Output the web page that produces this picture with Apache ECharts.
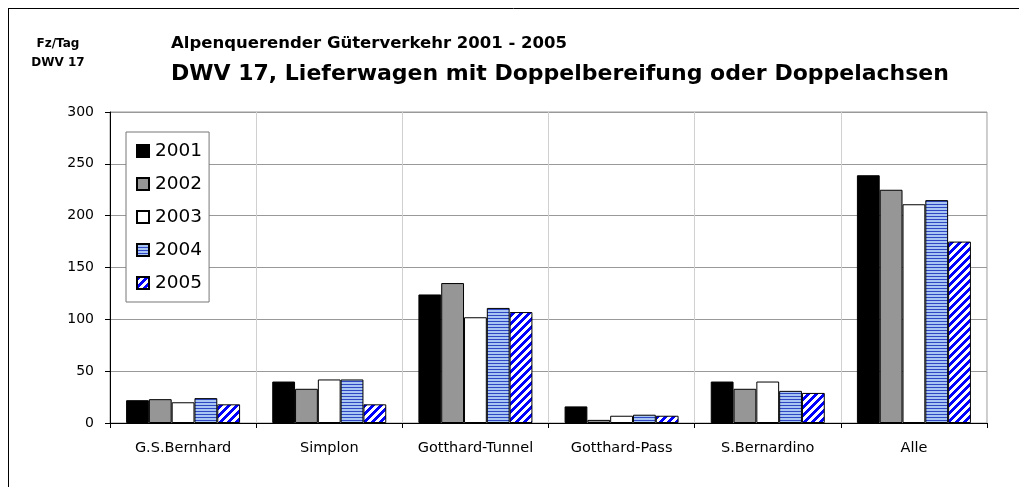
<!DOCTYPE html>
<html>
<head>
<meta charset="utf-8">
<script src="https://cdn.jsdelivr.net/npm/echarts@6/dist/echarts.min.js"></script>
<style>
html,body{margin:0;padding:0;background:#fff;}
#c{width:1019px;height:487px;}
</style>
</head>
<body>
<div id="c"></div>
<script>
const categories = ['G.S.Bernhard', 'Simplon', 'Gotthard-Tunnel', 'Gotthard-Pass', 'S.Bernardino', 'Alle'];
const years = ['2001', '2002', '2003', '2004', '2005'];
const v2001 = [22, 40, 124, 16, 40, 239];
const v2002 = [23, 33, 135, 3, 33, 225];
const v2003 = [20, 42, 102, 7, 40, 211];
const v2004 = [24, 42, 111, 8, 31, 215];
const v2005 = [18, 18, 107, 7, 29, 175];
const yTicks = [0, 50, 100, 150, 200, 250, 300];
const titleTop = 'Alpenquerender Güterverkehr 2001 - 2005';
const titleMain = 'DWV 17, Lieferwagen mit Doppelbereifung oder Doppelachsen';
const unitLines = ['Fz/Tag', 'DWV 17'];

function hPattern() {
  const c = document.createElement('canvas');
  c.width = 4; c.height = 3;
  const g = c.getContext('2d');
  g.fillStyle = '#a9c6f2'; g.fillRect(0, 0, 4, 3);
  g.fillStyle = '#2f47c4'; g.fillRect(0, 0, 4, 1);
  return { image: c, repeat: 'repeat' };
}
function dPattern() {
  const n = 8;
  const c = document.createElement('canvas');
  c.width = n; c.height = n;
  const g = c.getContext('2d');
  const img = g.createImageData(n, n);
  for (let y = 0; y < n; y++) for (let x = 0; x < n; x++) {
    const blue = ((x + y) % n) < 4;
    const i = (y * n + x) * 4;
    img.data[i] = blue ? 0 : 255;
    img.data[i + 1] = blue ? 0 : 255;
    img.data[i + 2] = 255;
    img.data[i + 3] = 255;
  }
  g.putImageData(img, 0, 0);
  return { image: c, repeat: 'repeat' };
}

const fills = ['#000000', '#969696', '#ffffff', hPattern(), dPattern()];
const values = [v2001, v2002, v2003, v2004, v2005];

const chart = echarts.init(document.getElementById('c'), null, { renderer: 'canvas' });
const font = '"DejaVu Sans", "Liberation Sans", Arial, sans-serif';

chart.setOption({
  animation: false,
  textStyle: { fontFamily: font },
  grid: { left: 110, right: 32, top: 112, bottom: 64, show: true, borderColor: '#999', borderWidth: 1 },
  legend: {
    orient: 'vertical',
    left: 126, top: 132,
    data: years,
    icon: 'rect',
    itemWidth: 12, itemHeight: 12,
    itemGap: 13,
    padding: [9, 7, 9, 10],
    backgroundColor: '#fff',
    borderColor: '#777', borderWidth: 1,
    textStyle: { fontSize: 18.5, lineHeight: 20, color: '#000', fontFamily: font, padding: [0, 0, 0, 1] }
  },
  xAxis: {
    type: 'category',
    data: categories,
    axisLine: { lineStyle: { color: '#000', width: 1 } },
    axisTick: { show: true, interval: 0, length: 5, lineStyle: { color: '#000' } },
    splitLine: { show: true, interval: 0, lineStyle: { color: '#d0d0d0', width: 1 } },
    axisLabel: { interval: 0, hideOverlap: false, fontSize: 14.5, color: '#000', margin: 18, fontFamily: font }
  },
  yAxis: {
    type: 'value',
    min: yTicks[0], max: yTicks[yTicks.length - 1], interval: 50,
    axisLine: { show: true, lineStyle: { color: '#000', width: 1 } },
    axisTick: { show: true, length: 5, lineStyle: { color: '#000' } },
    splitLine: { show: true, lineStyle: { color: '#999', width: 1 } },
    axisLabel: { fontSize: 14, color: '#000', margin: 16, fontFamily: font }
  },
  series: years.map((y, i) => ({
    name: y,
    type: 'bar',
    data: values[i],
    barGap: '0%',
    barCategoryGap: '22%',
    itemStyle: { color: fills[i], borderColor: '#000', borderWidth: 1 }
  })),
  graphic: [
    { type: 'line', shape: { x1: 8, y1: 8.5, x2: 1019, y2: 8.5 }, style: { stroke: '#000', lineWidth: 1 } },
    { type: 'line', shape: { x1: 8.5, y1: 8, x2: 8.5, y2: 487 }, style: { stroke: '#000', lineWidth: 1 } },
    { type: 'text', x: 171, y: 44, style: { text: titleTop, font: 'bold 16.5px ' + font, fill: '#000', verticalAlign: 'middle' } },
    { type: 'text', x: 171, y: 74, style: { text: titleMain, font: 'bold 22px ' + font, fill: '#000', verticalAlign: 'middle' } },
    { type: 'text', x: 58, y: 44, style: { text: unitLines[0], font: 'bold 12px ' + font, fill: '#000', align: 'center', verticalAlign: 'middle' } },
    { type: 'text', x: 58, y: 63, style: { text: unitLines[1], font: 'bold 12px ' + font, fill: '#000', align: 'center', verticalAlign: 'middle' } }
  ]
});
</script>
</body>
</html>
